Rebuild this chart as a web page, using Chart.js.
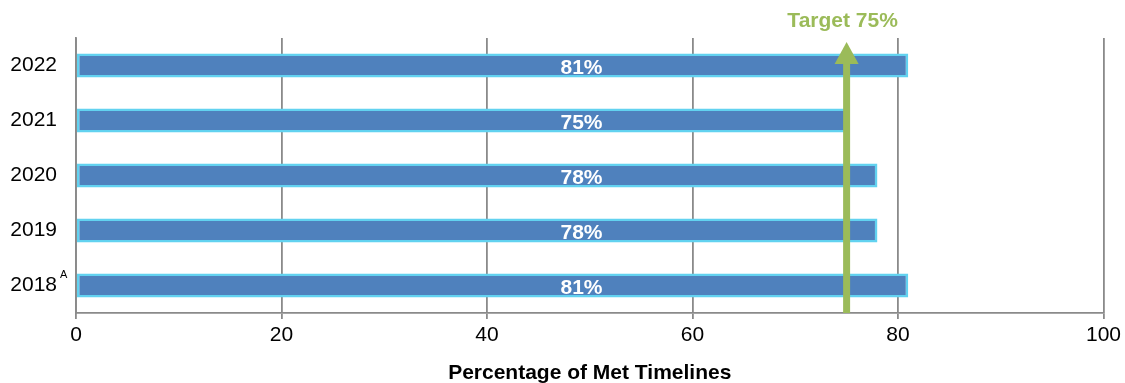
<!DOCTYPE html>
<html>
<head>
<meta charset="utf-8">
<script src="https://cdn.jsdelivr.net/npm/chart.js@4"></script>
<style>
  html, body { margin: 0; padding: 0; background: #fff; }
  #wrap { width: 1125px; height: 383px; position: relative; }
</style>
</head>
<body>
<div id="wrap"><canvas id="chart"></canvas></div>
<script>
// Share of cases that met their timelines, by year
const years = ['2022', '2021', '2020', '2019', '2018'];
const yearNotes = ['', '', '', '', 'A'];
const metPercent = [81, 75, 78, 78, 81];
const targetPercent = 75;
const targetLabel = 'Target 75%';
const xTickValues = [0, 20, 40, 60, 80, 100];
const axisTitle = 'Percentage of Met Timelines';

const FONT = "'Liberation Sans', Arial, sans-serif";
const BAR_FILL = '#4F81BD';
const BAR_EDGE = '#62D2F0';
const TARGET_GREEN = '#9BBB59';
const GRID_GREY = '#8a8a8a';

// White value labels, all centred on one column across the plot
const valueLabels = {
  id: 'valueLabels',
  afterDatasetsDraw(chart) {
    const { ctx, scales: { x } } = chart;
    const meta = chart.getDatasetMeta(0);
    const cx = x.getPixelForValue(49.2);
    ctx.save();
    ctx.fillStyle = '#ffffff';
    ctx.font = 'bold 21px ' + FONT;
    ctx.textAlign = 'center';
    ctx.textBaseline = 'middle';
    meta.data.forEach((bar, i) => {
      ctx.fillText(metPercent[i] + '%', cx, bar.y + 3);
    });
    ctx.restore();
  }
};

// Green target arrow with its caption
const targetArrow = {
  id: 'targetArrow',
  afterDatasetsDraw(chart) {
    const { ctx, chartArea, scales: { x } } = chart;
    const px = x.getPixelForValue(targetPercent);
    const tipY = chartArea.top + 4;
    const headH = 22, headW = 12;
    ctx.save();
    ctx.strokeStyle = TARGET_GREEN;
    ctx.fillStyle = TARGET_GREEN;
    ctx.lineWidth = 7;
    ctx.beginPath();
    ctx.moveTo(px, chartArea.bottom);
    ctx.lineTo(px, tipY + headH - 1);
    ctx.stroke();
    ctx.beginPath();
    ctx.moveTo(px, tipY);
    ctx.lineTo(px + headW, tipY + headH);
    ctx.lineTo(px - headW, tipY + headH);
    ctx.closePath();
    ctx.fill();
    ctx.font = 'bold 21px ' + FONT;
    ctx.textAlign = 'center';
    ctx.textBaseline = 'middle';
    ctx.fillText(targetLabel, px - 4, 21);
    ctx.restore();
  }
};

// Superscript notes beside year labels
const yearNoteMarks = {
  id: 'yearNoteMarks',
  afterDraw(chart) {
    const { ctx, scales: { y } } = chart;
    ctx.save();
    ctx.fillStyle = '#000';
    ctx.font = '11px ' + FONT;
    ctx.textAlign = 'left';
    ctx.textBaseline = 'middle';
    yearNotes.forEach((note, i) => {
      if (!note) return;
      ctx.fillText(note, y.right - 16, y.getPixelForValue(i) - 11);
    });
    ctx.restore();
  }
};

new Chart(document.getElementById('chart'), {
  type: 'bar',
  data: {
    labels: years,
    datasets: [{
      data: metPercent,
      backgroundColor: BAR_FILL,
      borderColor: BAR_EDGE,
      borderWidth: 2.5,
      borderSkipped: false,
      barPercentage: 0.44,
      categoryPercentage: 1
    }]
  },
  options: {
    indexAxis: 'y',
    responsive: true,
    maintainAspectRatio: false,
    animation: false,
    layout: { padding: { top: 38, right: 21, left: 0, bottom: 0 } },
    plugins: { legend: { display: false }, tooltip: { enabled: false } },
    scales: {
      x: {
        min: 0,
        max: 100,
        afterFit(scale) { scale.height = 70; },
        afterBuildTicks(scale) { scale.ticks = xTickValues.map(v => ({ value: v })); },
        ticks: { color: '#000', font: { family: FONT, size: 21 }, padding: 4 },
        grid: { color: GRID_GREY, lineWidth: 1.8, tickLength: 6, tickColor: GRID_GREY },
        border: { color: GRID_GREY, width: 1.8 },
        title: {
          display: true,
          text: axisTitle,
          color: '#000',
          font: { family: FONT, size: 21, weight: 'bold', lineHeight: 0.9 },
          padding: { top: 0, bottom: 0 }
        }
      },
      y: {
        afterFit(scale) { scale.width = 76; },
        ticks: { color: '#000', font: { family: FONT, size: 21 }, padding: 19 },
        grid: { display: true, color: 'rgba(0,0,0,0)', drawTicks: false },
        border: { display: true, color: GRID_GREY, width: 1.8 }
      }
    }
  },
  plugins: [valueLabels, targetArrow, yearNoteMarks]
});
</script>
</body>
</html>
